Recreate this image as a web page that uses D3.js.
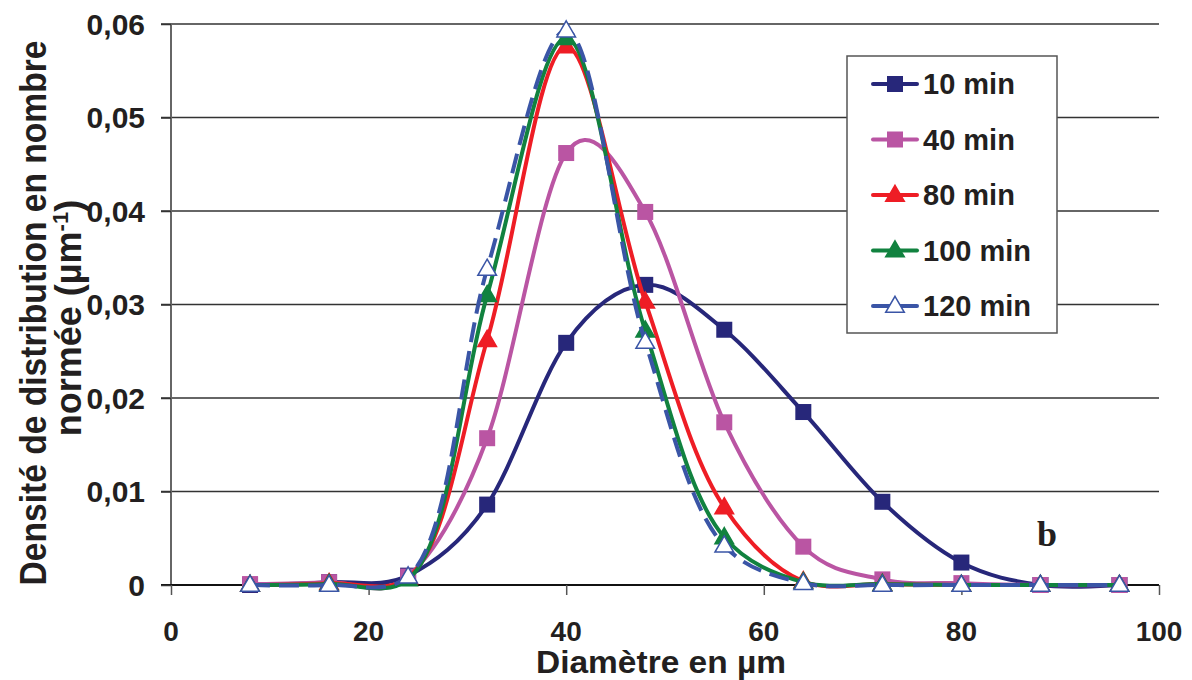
<!DOCTYPE html>
<html><head><meta charset="utf-8">
<script src="https://cdn.jsdelivr.net/npm/d3@7"></script>
<style>body{margin:0;background:#fff}svg{display:block}</style>
</head><body>
<script>
const diameters = [8,16,24,32,40,48,56,64,72,80,88,96];
const s10  = [0, 0.0003, 0.0010, 0.0086, 0.0259, 0.0321, 0.0273, 0.0185, 0.0089, 0.0024, 0, 0];
const s40  = [0.0001, 0.0003, 0.0009, 0.0157, 0.0462, 0.0399, 0.0174, 0.0041, 0.0006, 0.0002, 0, 0];
const s80  = [0, 0.0002, 0.0008, 0.0262, 0.0576, 0.0303, 0.0083, 0.0004, 0.0001, 0, 0, 0];
const s100 = [0, 0.0001, 0.0006, 0.0310, 0.0585, 0.0272, 0.0051, 0.0003, 0.0001, 0, 0, 0];
const s120 = [0, 0, 0.0009, 0.0338, 0.0593, 0.0260, 0.0042, 0.0002, 0, 0, 0, 0];
const seriesNames = ["10 min","40 min","80 min","100 min","120 min"];
const xTicks = [0,20,40,60,80,100];
const yTicks = [0,0.01,0.02,0.03,0.04,0.05,0.06];

const series = [
  {name:seriesNames[0], values:s10,  color:"#27277a", marker:"square", fill:"#27277a", dash:null},
  {name:seriesNames[1], values:s40,  color:"#ba55a3", marker:"square", fill:"#ba55a3", dash:null},
  {name:seriesNames[2], values:s80,  color:"#ee1d25", marker:"triangle", fill:"#ee1d25", dash:null},
  {name:seriesNames[3], values:s100, color:"#11823f", marker:"triangle", fill:"#11823f", dash:null},
  {name:seriesNames[4], values:s120, color:"#3a55a6", marker:"triangle", fill:"#ffffff", dash:"20,9"}
];

const W=1192,H=680;
const svg=d3.select("body").append("svg").attr("width",W).attr("height",H);
const x=d3.scaleLinear().domain([0,100]).range([171,1159]);
const y=d3.scaleLinear().domain([0,0.06]).range([585,24]);
const font="'Liberation Sans', Arial, sans-serif";
const ink="#231f20";

// gridlines
svg.append("g").selectAll("line").data(yTicks.slice(1)).join("line")
  .attr("x1",161).attr("x2",1159).attr("y1",d=>y(d)).attr("y2",d=>y(d))
  .attr("stroke","#333").attr("stroke-width",1.5);
// y axis line
svg.append("line").attr("x1",171).attr("x2",171).attr("y1",y(0.06)).attr("y2",585)
  .attr("stroke","#666").attr("stroke-width",2);
// x axis
const xAxis=d3.axisBottom(x).tickValues(xTicks).tickSize(10).tickFormat("");
const gx=svg.append("g").attr("transform","translate(0,585)").call(xAxis);
gx.select(".domain").attr("stroke","#111").attr("stroke-width",2).attr("d","M161,0H1159");
gx.selectAll(".tick line").attr("stroke","#555").attr("stroke-width",1.5);
// y ticks
const yAxis=d3.axisLeft(y).tickValues(yTicks).tickSize(10).tickFormat("");
const gy=svg.append("g").attr("transform","translate(171,0)").call(yAxis);
gy.select(".domain").remove();
gy.selectAll(".tick line").attr("stroke","#333").attr("stroke-width",1.5);

// tick labels
svg.append("g").selectAll("text").data(yTicks).join("text")
  .attr("x",145).attr("y",d=>y(d)).attr("dy","0.36em").attr("text-anchor","end")
  .attr("font-family",font).attr("font-weight","bold").attr("font-size",30).attr("fill",ink)
  .text(d=>d===0?"0":d3.format(".2f")(d).replace(".",","));
svg.append("g").selectAll("text").data(xTicks).join("text")
  .attr("x",d=>x(d)).attr("y",641).attr("text-anchor","middle")
  .attr("font-family",font).attr("font-weight","bold").attr("font-size",28).attr("fill",ink)
  .text(d=>d);

// axis titles
svg.append("text").attr("x",661).attr("y",673).attr("text-anchor","middle")
  .attr("font-family",font).attr("font-weight","bold").attr("font-size",32).attr("fill",ink)
  .attr("textLength",250).attr("lengthAdjust","spacingAndGlyphs")
  .text("Diamètre en µm");
const yt=svg.append("g").attr("transform","translate(0,313) rotate(-90)");
yt.append("text").attr("x",0).attr("y",46).attr("text-anchor","middle")
  .attr("font-family",font).attr("font-weight","bold").attr("font-size",36).attr("fill",ink)
  .attr("textLength",545).attr("lengthAdjust","spacingAndGlyphs")
  .text("Densité de distribution en nombre");
const t2=yt.append("text").attr("x",-5).attr("y",81).attr("text-anchor","middle")
  .attr("font-family",font).attr("font-weight","bold").attr("font-size",36).attr("fill",ink);
t2.append("tspan").text("normée (µm");
t2.append("tspan").attr("dy",-13).attr("font-size",22).text("-1");
t2.append("tspan").attr("dy",13).text(")");

// lines
const smoothUniform=d3.line().x((d,i)=>x(diameters[i])).y(d=>y(d)).curve(d3.curveCardinal.tension(0));
const smoothCentripetal=d3.line().x((d,i)=>x(diameters[i])).y(d=>y(d)).curve(d3.curveCatmullRom.alpha(0.5));
const tri=d3.symbol().type(d3.symbolTriangle).size(150);
function drawMarker(g,type,cx,cy,s){
  if(type==="square"){
    g.append("rect").attr("x",cx-8).attr("y",cy-8).attr("width",16).attr("height",16)
      .attr("fill",s.fill);
  } else {
    g.append("path").attr("d",tri()).attr("transform",`translate(${cx},${cy+1})`)
      .attr("fill",s.fill).attr("stroke",s.fill==="#ffffff"?s.color:s.fill).attr("stroke-width",1.5);
  }
}
series.forEach(s=>{
  const g=svg.append("g");
  const gen = s.marker==="square" ? smoothUniform : smoothCentripetal;
  g.append("path").attr("d",gen(s.values)).attr("fill","none").attr("stroke",s.color)
    .attr("stroke-width",4).attr("stroke-dasharray",s.dash);
  s.values.forEach((v,i)=>drawMarker(g,s.marker,x(diameters[i]),y(v),s));
});

// legend
const lg=svg.append("g");
lg.append("rect").attr("x",847).attr("y",56).attr("width",210).attr("height",277)
  .attr("fill","#fff").attr("stroke","#555").attr("stroke-width",1.5);
series.forEach((s,i)=>{
  const cy=84+i*55.5;
  lg.append("line").attr("x1",873).attr("x2",917).attr("y1",cy).attr("y2",cy)
    .attr("stroke",s.color).attr("stroke-width",4).attr("stroke-linecap","round");
  drawMarker(lg,s.marker,895,cy,s);
  lg.append("text").attr("x",923).attr("y",cy).attr("dy","0.36em")
    .attr("font-family",font).attr("font-weight","bold").attr("font-size",29).attr("fill",ink)
    .text(s.name);
});

// label b
svg.append("text").attr("x",1047).attr("y",546).attr("text-anchor","middle")
  .attr("font-family","'Liberation Serif','Times New Roman',serif").attr("font-weight","bold")
  .attr("font-size",36).attr("fill",ink).text("b");
</script>
</body></html>
